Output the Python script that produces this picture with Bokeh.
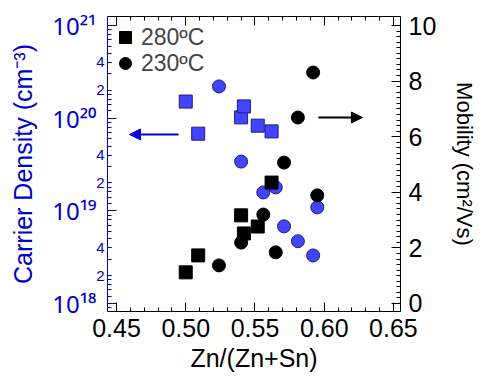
from bokeh.plotting import figure
from bokeh.models import (Range1d, LinearAxis, LogAxis, LinearScale, FixedTicker,
                          Arrow, NormalHead, Legend, LegendItem)
from bokeh.embed import file_html
from bokeh.resources import INLINE

# ---------------- data ----------------
# 280 C (squares)
x_280 = [0.500, 0.509, 0.540, 0.542, 0.552, 0.562]
n_280 = [1.51e20, 6.8e19, 1.02e20, 1.34e20, 8.3e19, 7.2e19]
mu_280 = [1.12, 1.73, 3.17, 2.52, 2.77, 4.35]

# 230 C (circles)
x_230 = [0.524, 0.540, 0.556, 0.565, 0.571, 0.581, 0.592, 0.595]
n_230 = [2.2e20, 3.4e19, 1.58e19, 1.79e19, 6.8e18, 4.7e18, 3.3e18, 1.09e19]
mu_230 = [1.37, 2.19, 3.20, 1.84, 5.07, 6.69, 8.31, 3.89]

legend_labels = ["280\u00baC", "230\u00baC"]

x_ticks = [0.45, 0.50, 0.55, 0.60, 0.65]
x_tick_labels = ["0.45", "0.50", "0.55", "0.60", "0.65"]
x_minor = [0.45, 0.46, 0.47, 0.48, 0.49, 0.50, 0.51, 0.52, 0.53, 0.54, 0.55,
           0.56, 0.57, 0.58, 0.59, 0.60, 0.61, 0.62, 0.63, 0.64, 0.65]
n_ticks = [1e18, 1e19, 1e20, 1e21]
n_tick_labels = ["10\u00b9\u2078", "10\u00b9\u2079", "10\u00b2\u2070", "10\u00b2\u00b9"]
n_sub_ticks = [2e18, 4e18, 2e19, 4e19, 2e20, 4e20]
n_sub_labels = ["2", "4", "2", "4", "2", "4"]
n_minor = [m * 10.0 ** e for e in (17, 18, 19, 20)
           for m in (1.2, 1.4, 1.6, 1.8, 2, 3, 4, 5, 6, 7, 8, 9)]
mu_ticks = [0, 2, 4, 6, 8, 10]
mu_minor = [i * 0.2 for i in range(51)]

x_title = "Zn/(Zn+Sn)"
n_title = "Carrier Density (cm\u207b\u00b3)"
mu_title = "Mobility (cm\u00b2/Vs)"

# ---------------- style ----------------
FONT = "Liberation Sans"
SUP_FONT = "Noto Sans"
BLUE = "#0000cc"
BLUE_FILL = "#4444ff"
BLUE_LINE = "#1c1c80"

X_START, X_END = 0.4435, 0.6551
N_START, N_END = 8.2e17, 1.25e21
MU_START, MU_END = -0.288, 10.324

p = figure(width=490, height=383, output_backend="svg", toolbar_location=None,
           title=None, y_axis_type="log",
           x_range=Range1d(X_START, X_END), y_range=Range1d(N_START, N_END),
           min_border_left=107, min_border_right=90, min_border_top=16,
           min_border_bottom=72)
p.extra_y_ranges = {"mob": Range1d(MU_START, MU_END)}
p.extra_y_scales = {"mob": LinearScale()}
p.grid.visible = False
p.outline_line_color = None
p.background_fill_color = "white"
p.border_fill_color = "white"


def style_axis(ax, color, major_in=9, minor_in=4):
    ax.axis_line_color = color
    ax.axis_line_width = 1
    ax.major_tick_line_color = color
    ax.minor_tick_line_color = color
    ax.major_tick_in = major_in
    ax.major_tick_out = 0
    ax.minor_tick_in = minor_in
    ax.minor_tick_out = 0
    ax.major_label_text_font = FONT
    ax.major_label_text_font_size = "25px"
    ax.major_label_text_color = color
    ax.axis_label_text_font = FONT
    ax.axis_label_text_font_style = "normal"
    ax.axis_label_text_color = color


# bottom axis
bx = p.xaxis[0]
bx.ticker = FixedTicker(ticks=x_ticks, minor_ticks=x_minor)
style_axis(bx, "black")
bx.major_label_standoff = 7
bx.major_label_overrides = dict(zip(x_ticks, x_tick_labels))
bx.axis_label = x_title
bx.axis_label_text_font_size = "25px"
bx.axis_label_standoff = 4

# top axis (mirror, no labels)
tx = LinearAxis(ticker=FixedTicker(ticks=x_ticks, minor_ticks=x_minor))
style_axis(tx, "black")
tx.major_label_overrides = {t: "" for t in x_ticks}
tx.major_label_standoff = 0
p.add_layout(tx, "above")

# left axis, nearest: line, minor ticks, small "2" / "4" labels
ly = p.yaxis[0]
ly.ticker = FixedTicker(ticks=n_sub_ticks, minor_ticks=n_minor)
style_axis(ly, BLUE, major_in=4)
ly.major_label_text_font_size = "15px"
ly.major_label_standoff = 3
ly.major_label_overrides = dict(zip(n_sub_ticks, n_sub_labels))

# left axis, outer: decade labels and axis title
cy = LogAxis(ticker=FixedTicker(ticks=n_ticks, minor_ticks=[]))
style_axis(cy, BLUE)
cy.axis_line_color = None
cy.major_tick_line_color = None
cy.minor_tick_line_color = None
cy.major_label_text_font = SUP_FONT
cy.major_label_text_font_size = "24px"
cy.major_label_standoff = -3
cy.major_label_overrides = dict(zip(n_ticks, n_tick_labels))
cy.axis_label = n_title
cy.axis_label_text_font_size = "25px"
cy.axis_label_standoff = 12
p.add_layout(cy, "left")

# decade ticks drawn on the frame edge
dy = LogAxis(ticker=FixedTicker(ticks=n_ticks, minor_ticks=[]), fixed_location=X_START)
style_axis(dy, BLUE)
dy.minor_tick_line_color = None
dy.major_label_standoff = 0
dy.major_label_overrides = {t: "" for t in n_ticks}
p.add_layout(dy, "left")

# right mobility axis
ry = LinearAxis(y_range_name="mob", ticker=FixedTicker(ticks=mu_ticks, minor_ticks=mu_minor))
style_axis(ry, "black")
ry.major_label_standoff = 8
ry.axis_label = mu_title
ry.axis_label_text_font_size = "22px"
ry.axis_label_standoff = 13
p.add_layout(ry, "right")

# ---------------- markers ----------------
p.scatter(x_280, n_280, marker="square", size=13, fill_color=BLUE_FILL,
          line_color=BLUE_LINE, line_width=1)
p.scatter(x_230, n_230, marker="circle", size=13, fill_color=BLUE_FILL,
          line_color=BLUE_LINE, line_width=1)
r_sq = p.scatter(x_280, mu_280, marker="square", size=13, fill_color="black",
                 line_color="black", y_range_name="mob")
r_ci = p.scatter(x_230, mu_230, marker="circle", size=13, fill_color="black",
                 line_color="black", y_range_name="mob")

# ---------------- legend (one box per entry) ----------------
for lbl, rend, vy in ((legend_labels[0], r_sq, 259), (legend_labels[1], r_ci, 233)):
    p.add_layout(Legend(items=[LegendItem(label=lbl, renderers=[rend])],
                        location=(3, vy), border_line_color=None,
                        background_fill_alpha=0, padding=0, margin=0, spacing=0,
                        glyph_width=30, glyph_height=30, label_standoff=1,
                        label_text_font=FONT, label_text_font_size="23px"))

# ---------------- arrows ----------------
p.add_layout(Arrow(x_start=0.4948, y_start=6.67e19, x_end=0.4594, y_end=6.67e19,
                   line_color="#0000dd", line_width=2,
                   end=NormalHead(size=11, fill_color="#0000dd", line_color="#0000dd")))
p.add_layout(Arrow(x_start=0.5958, y_start=6.69, x_end=0.6276, y_end=6.69,
                   y_range_name="mob", line_color="black", line_width=2,
                   end=NormalHead(size=11, fill_color="black", line_color="black")))

open("out.html", "w").write(file_html(p, INLINE))
